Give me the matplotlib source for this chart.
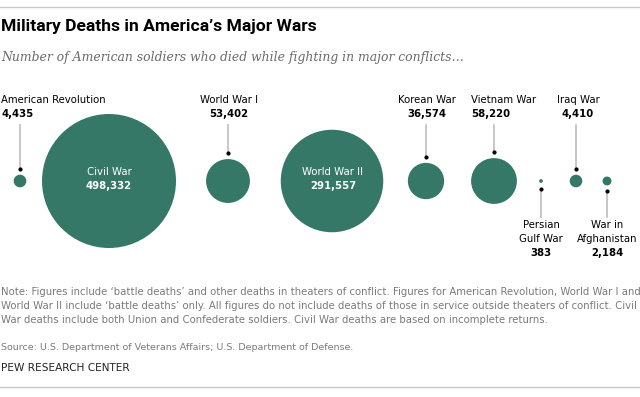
import matplotlib
matplotlib.use("Agg")
import matplotlib.pyplot as plt
from matplotlib.patches import Circle
import numpy as np

wars = ["American Revolution", "Civil War", "World War I", "World War II", "Korean War",
        "Vietnam War", "Persian\nGulf War", "Iraq War", "War in\nAfghanistan"]
deaths = [4435, 498332, 53402, 291557, 36574, 58220, 383, 4410, 2184]

title = "Military Deaths in America\u2019s Major Wars"
subtitle = "Number of American soldiers who died while fighting in major conflicts\u2026"
note = ("Note: Figures include \u2018battle deaths\u2019 and other deaths in theaters of conflict. Figures for American Revolution, World War I and\n"
        "World War II include \u2018battle deaths\u2019 only. All figures do not include deaths of those in service outside theaters of conflict. Civil\n"
        "War deaths include both Union and Confederate soldiers. Civil War deaths are based on incomplete returns.")
source = "Source: U.S. Department of Veterans Affairs; U.S. Department of Defense."
credit = "PEW RESEARCH CENTER"

# layout in pixels
x_pos = [20, 109, 228, 332, 426, 494, 541, 576, 607]
side = ["top", "inside", "top", "inside", "top", "top", "bottom", "top", "bottom"]
label_x = [1, 109, 229, 333, 427, 471, 541, 578, 607]
label_ha = ["left", "center", "center", "center", "center", "left", "center", "center", "center"]
cy = 181
k = 67 / np.sqrt(max(deaths))

green = "#367867"
sans = ["DejaVu Sans"]
narrow = ["Liberation Sans Narrow", "Roboto", "DejaVu Sans"]
fs = 7.3

fig = plt.figure(figsize=(6.4, 3.97), dpi=100)
ax = fig.add_axes([0, 0, 1, 1])
ax.set_xlim(0, 640)
ax.set_ylim(397, 0)
ax.axis("off")

ax.plot([0, 640], [7, 7], color="#c8c8c8", lw=1)
ax.plot([0, 640], [387, 387], color="#c8c8c8", lw=1)

ax.text(1, 27, title, fontsize=12.6, fontweight="bold", family=narrow, va="center", ha="left")
ax.text(1, 57, subtitle, fontsize=8.9, style="italic", family=["DejaVu Serif"], color="#6a6a6a",
        va="center", ha="left")

for name, val, x, s, lx, ha in zip(wars, deaths, x_pos, side, label_x, label_ha):
    r = k * np.sqrt(val)
    ax.add_patch(Circle((x, cy), r, color=green, lw=0))
    num = f"{val:,}"
    if s == "inside":
        ax.text(lx, cy - 9, name, color="white", fontsize=fs, family=sans, ha="center", va="center")
        ax.text(lx, cy + 5, num, color="white", fontsize=fs, family=sans, fontweight="bold",
                ha="center", va="center")
    elif s == "top":
        y_end = cy - r - 6
        ax.plot([x, x], [125, y_end], color="#bdbdbd", lw=1.2)
        ax.plot(x, y_end, "o", color="black", ms=2.0)
        ax.text(lx, 100, name, fontsize=fs, family=sans, ha=ha, va="center")
        ax.text(lx, 114, num, fontsize=fs, family=sans, fontweight="bold", ha=ha, va="center")
    else:
        y_start = cy + r + 6
        ax.plot([x, x], [y_start, 217], color="#bdbdbd", lw=1.2)
        ax.plot(x, y_start, "o", color="black", ms=2.0)
        lines = name.split("\n")
        for i, ln in enumerate(lines):
            ax.text(lx, 225 + 14 * i, ln, fontsize=fs, family=sans, ha="center", va="center")
        ax.text(lx, 225 + 14 * len(lines), num, fontsize=fs, family=sans, fontweight="bold",
                ha="center", va="center")

ax.text(1, 306, note, fontsize=7.25, family=sans, color="#7a7a7a", va="center", ha="left",
        linespacing=1.55)
ax.text(1, 347, source, fontsize=6.8, family=sans, color="#7a7a7a", va="center", ha="left")
ax.text(1, 368, credit, fontsize=7.6, family=sans, color="#222222", va="center", ha="left")

fig.savefig("out.png", dpi=100)
